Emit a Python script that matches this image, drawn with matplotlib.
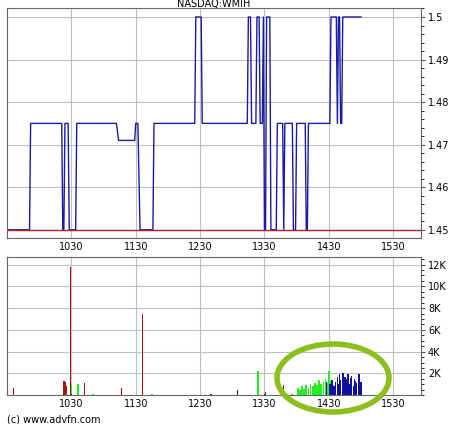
import numpy as np
import matplotlib.pyplot as plt
from matplotlib.patches import Ellipse

# time in minutes since 09:30, price steps
price_t = [0, 21, 22, 51, 52, 53, 54, 57, 58, 64, 65, 102, 104, 119, 120, 122, 124, 136, 137,
           175, 176, 181, 182, 224, 225, 227, 228, 232, 233, 235, 236, 238, 239, 240, 241, 242,
           245, 246, 251, 252, 257, 258, 259, 266, 267, 269, 270, 278, 279, 280, 281,
           301, 302, 307, 308, 309, 310, 311, 312, 313, 314, 330]
price_v = [1.45, 1.45, 1.475, 1.475, 1.45, 1.45, 1.475, 1.475, 1.45, 1.45, 1.475, 1.475, 1.471,
           1.471, 1.475, 1.475, 1.45, 1.45, 1.475,
           1.475, 1.5, 1.5, 1.475, 1.475, 1.5, 1.5, 1.475, 1.475, 1.5, 1.5, 1.475, 1.475, 1.5,
           1.45, 1.45, 1.5,
           1.5, 1.45, 1.45, 1.475, 1.475, 1.45, 1.475, 1.475, 1.45, 1.45, 1.475, 1.475, 1.45, 1.45, 1.475,
           1.475, 1.5, 1.5, 1.475, 1.5, 1.5, 1.475, 1.475, 1.5, 1.5, 1.5]
ref_price = 1.45

red_t = [6, 53, 54, 55, 59, 72, 107, 126, 241, 258]
red_v = [700, 1300, 1200, 800, 11800, 1100, 700, 7500, 300, 900]

green_t = [14, 26, 38, 56, 60, 66, 80, 95, 118, 135, 150, 165, 175, 190, 200, 212, 222, 234,
           248, 262, 266, 271, 273, 275, 277, 279, 281, 283, 285, 287, 289, 291, 293, 295,
           297, 299, 300, 302, 304]
green_v = [60, 60, 60, 80, 1000, 1000, 80, 60, 60, 150, 60, 60, 60, 60, 60, 60, 60, 2200,
           60, 60, 150, 700, 500, 800, 600, 900, 700, 1000, 800, 1100, 900, 1400, 1000, 1200,
           1500, 1100, 2200, 1300, 900]

blue_t = [60, 190, 215, 240, 298, 301, 303, 305, 306, 308, 309, 310, 311, 313, 314, 315, 316, 318,
          319, 320, 321, 323, 324, 325, 326, 328, 329, 330]
blue_v = [150, 100, 500, 150, 1200, 1000, 1400, 800, 1200, 1700, 1000, 1900, 1400, 2000, 900,
          1700, 1500, 1900, 1000, 1600, 1800, 800, 1500, 1300, 1100, 1900, 1000, 1200]

xticks = [60, 120, 180, 240, 300, 360]
xlabels = ['1030', '1130', '1230', '1330', '1430', '1530']

fig = plt.figure(figsize=(4.53, 4.24), dpi=100)
ax1 = fig.add_axes([0.0155, 0.439, 0.914, 0.542])
ax2 = fig.add_axes([0.0155, 0.068, 0.914, 0.326])

for ax in (ax1, ax2):
    ax.set_xlim(0, 386)
    ax.set_xticks(xticks)
    ax.set_xticklabels(xlabels, fontsize=7)
    ax.yaxis.tick_right()
    ax.tick_params(axis='both', labelsize=7, length=3, color='#555555', pad=2)
    ax.tick_params(axis='x', length=0, pad=3)
    ax.grid(True, color='#c0c0c0', lw=0.8)
    ax.set_axisbelow(True)
    for s in ax.spines.values():
        s.set_color('#666666')
        s.set_linewidth(0.8)
    ax.minorticks_on()
    ax.tick_params(axis='x', which='minor', bottom=False)
    ax.tick_params(axis='y', which='minor', length=2, left=False, right=True)

ax1.plot(price_t, price_v, color='#1a1aa6', lw=1)
ax1.axhline(ref_price, color='#c02020', lw=1)
ax1.set_ylim(1.4481, 1.5021)
ax1.set_yticks([1.45, 1.46, 1.47, 1.48, 1.49, 1.5])
ax1.set_yticklabels(['1.45', '1.46', '1.47', '1.48', '1.49', '1.5'])
ax1.set_title('NASDAQ:WMIH', fontsize=7, pad=1)

ax2.bar(red_t, red_v, width=1.2, color='#b01010')
ax2.bar(green_t, green_v, width=1.6, color='#22ee22')
ax2.bar(blue_t, blue_v, width=1.4, color='#1010a0')
ax2.set_ylim(0, 12700)
ax2.set_yticks([2000, 4000, 6000, 8000, 10000, 12000])
ax2.set_yticklabels(['2K', '4K', '6K', '8K', '10K', '12K'])

ell = Ellipse((333 / 453, 1 - 378 / 424), 112 / 453, 68 / 424, transform=fig.transFigure,
              fill=False, edgecolor='#8cbf1e', lw=4)
fig.patches.append(ell)
fig.text(0.015, 0.003, '(c) www.advfn.com', fontsize=7)

plt.savefig('out.png', dpi=100)
